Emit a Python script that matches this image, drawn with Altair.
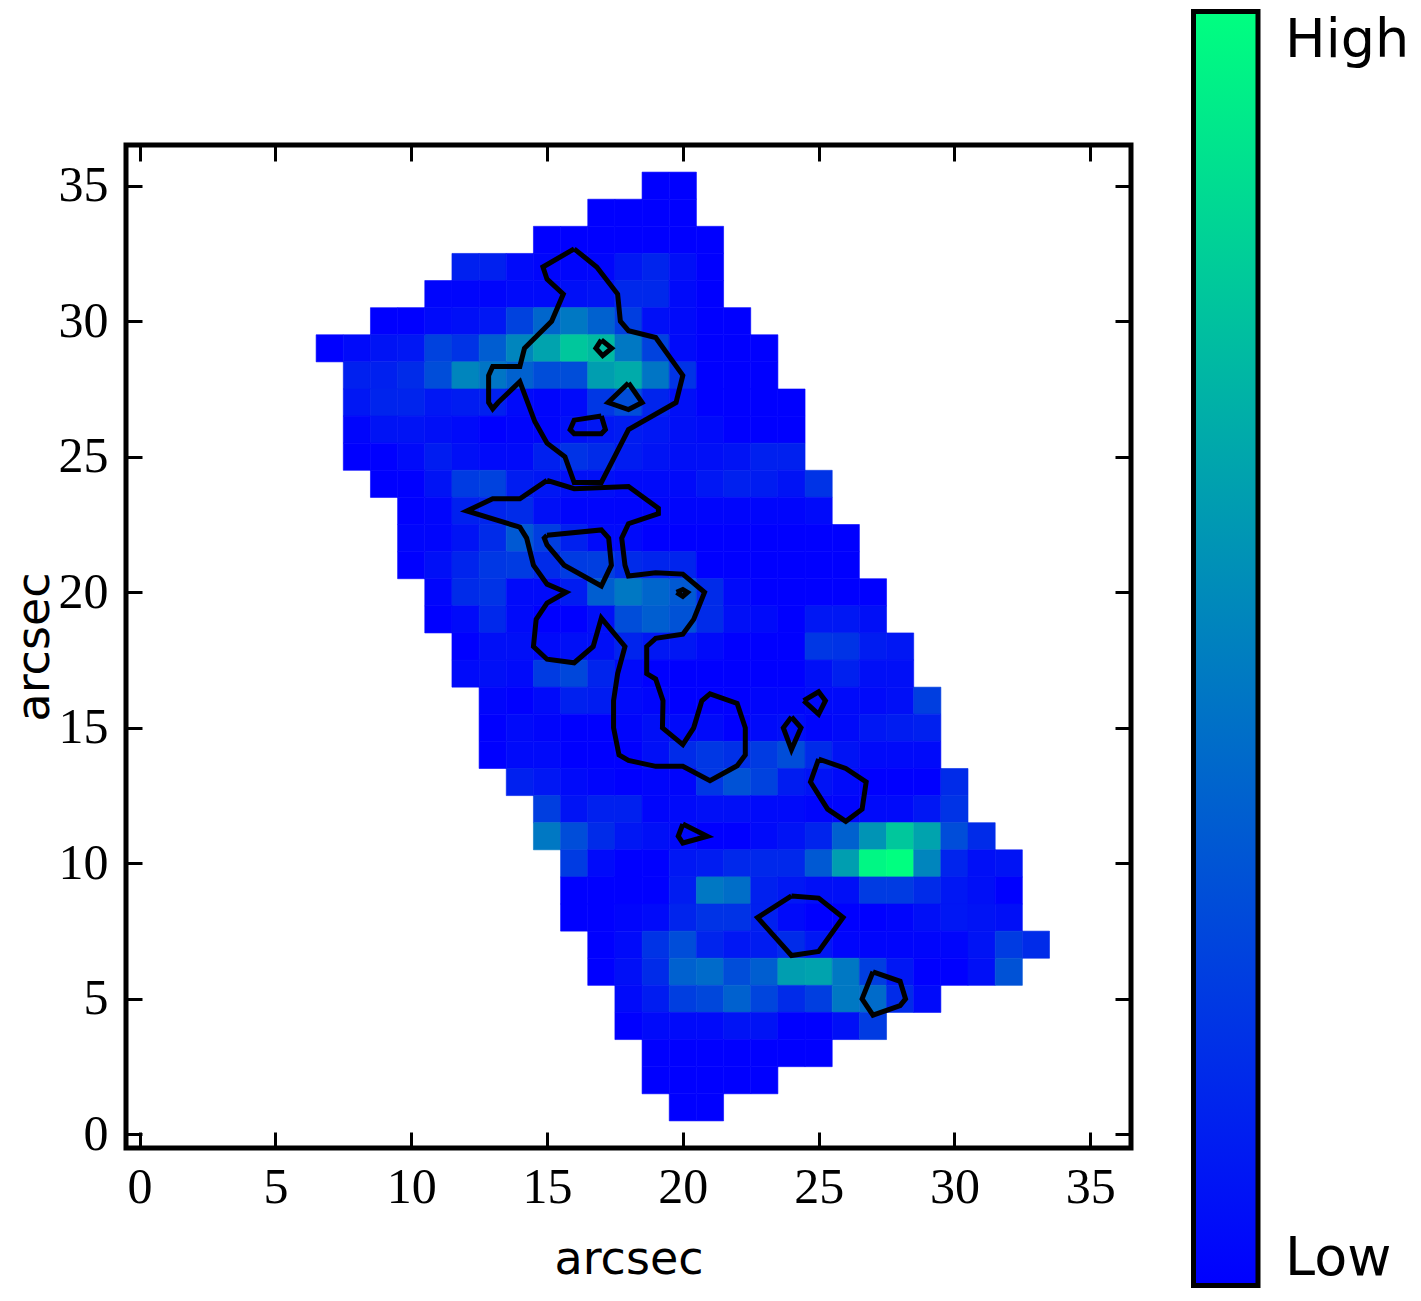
import altair as alt
import pandas as pd

# Row number, first column, and cell levels (0 = low, 1 = high)
row_numbers = [35, 34, 33, 32, 31, 30, 29, 28, 27, 26, 25, 24, 23, 22, 21, 20, 19, 18,
               17, 16, 15, 14, 13, 12, 11, 10, 9, 8, 7, 6, 5, 4, 3, 2, 1]
row_starts = [19, 17, 15, 12, 11, 9, 7, 8, 8, 8, 8, 9, 10, 10, 10, 11, 11, 12,
              12, 13, 13, 13, 14, 15, 15, 16, 16, 16, 17, 17, 18, 18, 19, 19, 20]
row_levels = [
    [0, 0],
    [0, 0, 0, 0],
    [0, 0, 0, 0, 0, 0, 0],
    [.125, .125, .04, .02, .02, .02, .09, .14, .06, 0],
    [.02, .02, .02, .04, .04, .06, .075, .155, .155, .04, 0],
    [0, 0, .04, .06, .09, .26, .4, .47, .38, .245, .06, .04, 0, 0],
    [0, .04, .075, .09, .26, .2, .365, .52, .64, .78, .73, .47, .26, .04, 0, 0, 0],
    [.125, .125, .17, .3, .52, .46, .38, .3, .3, .62, .67, .46, .2, 0, 0, 0],
    [.09, .14, .14, .09, .11, .125, .04, .02, .04, .215, .3, .14, .06, 0, 0, 0, 0],
    [.02, .075, .075, .06, .04, 0, .02, .02, .06, .09, .11, .09, .06, .04, 0, 0, 0],
    [0, 0, .04, .11, .06, .04, .04, .125, .2, .17, .11, .075, .06, .06, .075, .125, .125],
    [0, 0, .075, .23, .26, .11, .09, .06, .06, .04, .04, .04, .09, .125, .11, .075, .2],
    [0, .02, .125, .14, .17, .06, .02, .02, .02, .02, .02, .02, .02, .02, .02, .04],
    [.02, .02, .075, .17, .35, .245, .125, .04, .04, 0, 0, 0, 0, 0, 0, 0, 0],
    [0, .06, .14, .215, .23, .17, .23, .245, .17, .14, .14, 0, 0, 0, 0, 0, 0],
    [.02, .17, .2, .04, .04, .11, .37, .47, .4, .35, .17, .04, 0, 0, 0, 0, 0],
    [0, .04, .155, .04, 0, 0, .06, .3, .37, .32, .17, .06, .04, 0, .09, .09, .06],
    [0, .06, .06, .04, .06, .06, .14, .09, .09, .04, 0, 0, 0, .215, .2, .11, .09],
    [.04, .06, .04, .23, .28, .14, .04, 0, 0, 0, 0, 0, 0, .06, .125, .06, .06],
    [.02, 0, .04, .125, .11, .04, .02, 0, 0, 0, .02, .02, .04, .04, .04, .06, .245],
    [0, .04, .02, 0, 0, .02, .06, .04, .04, 0, .04, .06, .02, .04, .09, .11, .125],
    [0, .04, .04, 0, 0, 0, .06, .17, .215, .19, .23, .3, .17, .075, .04, .04, .04],
    [.125, .09, .04, .02, 0, .02, .02, .215, .32, .26, .11, .075, .04, 0, 0, 0, .17],
    [.245, .075, .125, .125, .02, .04, .06, .06, .04, .04, .02, .02, .04, .04, .09, .2],
    [.47, .3, .17, .09, .06, .04, 0, 0, .04, .075, .14, .38, .58, .78, .64, .3, .17],
    [.23, .04, 0, 0, .09, .11, .155, .155, .155, .35, .62, .97, 1, .52, .14, .06, .075],
    [0, 0, 0, 0, .11, .47, .43, .125, .09, .06, .06, .23, .23, .17, .09, .06, 0],
    [0, 0, .02, .04, .14, .2, .2, .125, .04, 0, 0, 0, .02, .06, .09, .075, .06],
    [0, .04, .2, .3, .14, .09, .11, .17, .09, .02, .02, .02, .02, .02, .075, .23, .17],
    [0, .06, .17, .38, .42, .3, .37, .62, .64, .47, .245, .09, 0, 0, .06, .32],
    [.04, .11, .245, .28, .38, .27, .17, .245, .47, .42, .17, .04],
    [0, .04, .04, .04, .075, .075, 0, 0, .06, .23],
    [0, 0, 0, 0, 0, 0, 0],
    [0, 0, 0, 0, 0],
    [0, 0],
]

# Contour outlines: one x list and one y list per closed path
contour_xs = [
    [16, 16.83, 17.6, 17.7, 18, 19, 20, 19.75, 18, 17, 16, 15.66, 15, 14.55, 14, 13.2, 13, 12.85, 12.85, 13, 14, 14.17, 15.17, 15.6, 15, 14.85, 16],
    [17, 17.38, 17.05, 16.8, 17],
    [18, 18.5, 18, 17.25, 18],
    [17, 17.15, 17, 16, 15.85, 16, 17],
    [15, 16, 18, 19.1, 19.1, 18, 17.75, 17.87, 18, 19, 20, 20.8, 20.4, 20, 19, 18.67, 18.67, 19, 19.27, 19.25, 20, 20.4, 20.7, 21, 22, 22.3, 22.3, 22, 21, 20, 19, 18, 17.65, 17.45, 17.45, 17.6, 17.87, 17, 16.7, 16, 15, 14.5, 14.6, 15, 15.7, 15, 14.5, 14.25, 14, 12.05, 13, 14, 15],
    [15, 17, 17.27, 17.37, 17, 15.63, 15, 14.9, 15],
    [19.77, 20, 20.17, 20, 19.77],
    [24.45, 25, 25.25, 25, 24.45],
    [24, 24.35, 24, 23.7, 24],
    [25, 26, 26.75, 26.6, 26, 25.33, 24.7, 25],
    [20, 20.9, 20, 19.83, 20],
    [24, 25, 25.9, 25, 24, 23, 22.75, 24],
    [27, 28, 28.2, 28, 27, 26.6, 27],
]
contour_ys = [
    [32.67, 32, 31, 30, 29.65, 29.4, 28, 27, 26, 24.05, 24.05, 25, 25.5, 26.3, 27.77, 27, 26.77, 27, 28, 28.33, 28.33, 29, 30, 31, 31.55, 32, 32.67],
    [29.31, 29, 28.73, 29, 29.31],
    [27.72, 27, 26.74, 27, 27.72],
    [26.5, 26, 25.85, 25.85, 26, 26.35, 26.5],
    [24.13, 23.82, 23.9, 23.1, 22.9, 22.53, 22, 21, 20.6, 20.72, 20.67, 20, 19, 18.45, 18.3, 18, 17, 16.8, 16, 15, 14.38, 15, 16, 16.25, 15.9, 15, 14, 13.6, 13.05, 13.58, 13.58, 13.8, 14, 15, 16, 17, 18, 19.05, 18, 17.4, 17.53, 18, 19, 19.6, 20, 20.3, 21, 22, 22.4, 23, 23.45, 23.45, 24.13],
    [22.1, 22.3, 22, 21, 20.23, 21, 21.75, 22, 22.1],
    [20, 20.1, 20, 19.85, 20],
    [16, 16.33, 16, 15.5, 16],
    [15.4, 15, 14.2, 15, 15.4],
    [13.85, 13.5, 13, 12, 11.55, 12, 13, 13.85],
    [11.45, 11, 10.75, 11, 11.45],
    [8.8, 8.72, 8, 6.75, 6.6, 7.72, 8, 8.8],
    [6, 5.65, 5, 4.75, 4.4, 5, 6],
]

tick_values = [0, 5, 10, 15, 20, 25, 30, 35]
colorbar_ticks = [1, 2, 3, 4, 5, 6, 7]
colorbar_labels = ["Low", "High"]
colorbar_label_levels = [0.095, 7.107]
low_color = "#0000ff"
high_color = "#00ff80"

cells = pd.DataFrame(
    [
        {"x0": s + i - 0.5, "x1": s + i + 0.5, "y0": r - 0.5, "y1": r + 0.5, "level": v}
        for r, s, vals in zip(row_numbers, row_starts, row_levels)
        for i, v in enumerate(vals)
    ]
)
contours = pd.DataFrame(
    [
        {"path": p, "idx": i, "x": x, "y": y}
        for p, (xs, ys) in enumerate(zip(contour_xs, contour_ys))
        for i, (x, y) in enumerate(zip(xs, ys))
    ]
)

x_scale = alt.Scale(domain=[-0.5, 36.5], nice=False, zero=False)
y_scale = alt.Scale(domain=[-0.5, 36.5], nice=False, zero=False)
color_scale = alt.Scale(domain=[0, 1], range=[low_color, high_color], interpolate="rgb")

SERIF = "Liberation Serif"
SANS = "DejaVu Sans"
BASE_AXIS = dict(
    values=tick_values, offset=-16, tickSize=16, tickWidth=3, tickColor="black",
    domain=False, grid=False,
)
LABEL_AXIS = dict(
    labelFont=SERIF, labelFontSize=50, labelColor="black", labelFlush=False, labelOverlap=False,
    titleFont=SANS, titleFontSize=46, titleFontWeight="normal", titleColor="black", title="arcsec",
)

heat = (
    alt.Chart(cells)
    .mark_rect(strokeWidth=0.6)
    .encode(
        x=alt.X("x0:Q", scale=x_scale, axis=alt.Axis(orient="bottom", labelPadding=14, titlePadding=25, **BASE_AXIS, **LABEL_AXIS)),
        x2="x1:Q",
        y=alt.Y("y0:Q", scale=y_scale, axis=alt.Axis(orient="left", labelPadding=18, titlePadding=0, **BASE_AXIS, **LABEL_AXIS)),
        y2="y1:Q",
        color=alt.Color("level:Q", scale=color_scale, legend=None),
        stroke=alt.Stroke("level:Q", scale=color_scale, legend=None),
    )
)
lines = (
    alt.Chart(contours)
    .mark_line(color="black", strokeWidth=5)
    .encode(
        x=alt.X("x:Q", scale=x_scale, axis=alt.Axis(orient="top", labels=False, title=None, **BASE_AXIS)),
        y=alt.Y("y:Q", scale=y_scale, axis=alt.Axis(orient="right", labels=False, title=None, **BASE_AXIS)),
        detail="path:N",
        order="idx:Q",
    )
)
main = alt.layer(heat, lines).resolve_axis(x="independent", y="independent").properties(
    width=1005,
    height=1003,
)
spacer = (
    alt.Chart(pd.DataFrame({"label": [""]}))
    .mark_text()
    .encode(text="label:N")
    .properties(width=1005, height=132, view=alt.ViewBackground(stroke=None))
)

cb_y = alt.Scale(domain=[0.0196, 7.383], nice=False, zero=False)
cb_x = alt.Scale(domain=[-0.0388, 3.403], nice=False, zero=False)
gradient = alt.LinearGradient(
    gradient="linear",
    x1=0, y1=1, x2=0, y2=0,
    stops=[alt.GradientStop(offset=0, color=low_color), alt.GradientStop(offset=1, color=high_color)],
)
bar = (
    alt.Chart(pd.DataFrame({"x0": [0], "x1": [1], "y0": [0.034], "y1": [7.369]}))
    .mark_rect(color=gradient, stroke="black", strokeWidth=5)
    .encode(
        x=alt.X("x0:Q", scale=cb_x, axis=None),
        x2="x1:Q",
        y=alt.Y(
            "y0:Q",
            scale=cb_y,
            axis=alt.Axis(
                orient="right", values=colorbar_ticks, offset=-172, tickSize=17, tickWidth=3,
                tickColor="black", domain=False, grid=False, labels=False, title=None,
            ),
        ),
        y2="y1:Q",
    )
)
cb_text = (
    alt.Chart(pd.DataFrame({"label": colorbar_labels, "level": colorbar_label_levels, "x": [1.42, 1.42]}))
    .mark_text(align="left", baseline="alphabetic", font=SANS, fontSize=54, color="black")
    .encode(
        x=alt.X("x:Q", scale=cb_x, axis=None),
        y=alt.Y("level:Q", scale=cb_y, axis=None),
        text="label:N",
    )
)
colorbar = alt.layer(bar, cb_text).properties(width=222, height=1279, view=alt.ViewBackground(stroke=None))

chart = (
    alt.hconcat(alt.vconcat(spacer, main, spacing=0), colorbar, spacing=56)
    .properties(padding=0, background="white")
    .configure_view(stroke="black", strokeWidth=5)
)
chart.save("out.html", embed_options={"renderer": "svg", "actions": False})
